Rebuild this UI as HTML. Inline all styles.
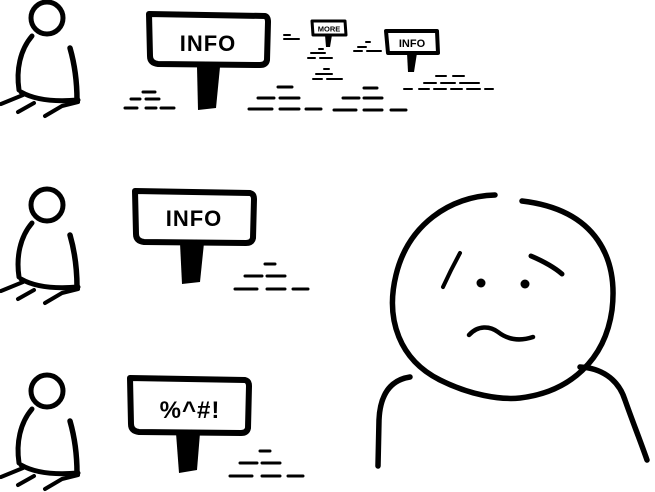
<!DOCTYPE html>
<html><head><meta charset="utf-8"><style>
html,body{margin:0;padding:0;background:#fff;width:655px;height:492px;overflow:hidden}
svg{display:block}
text{font-family:"Liberation Sans",sans-serif;font-weight:bold;fill:#000}
</style></head><body>
<svg width="655" height="492" viewBox="0 0 655 492" xmlns="http://www.w3.org/2000/svg">
<defs>
<g id="person" fill="none" stroke="#000" stroke-linecap="round" stroke-linejoin="round">
  <circle cx="47" cy="18" r="16" stroke-width="5"/>
  <path d="M32 36 C20 50 16 70 19 90" stroke-width="5"/>
  <path d="M70 48 C74 62 77 80 77 100" stroke-width="5.5"/>
  <path d="M21 92 C35 100 55 102 78 100" stroke-width="5"/>
  <path d="M1 104 L23 95 M18 112 L34 103 M45 116 L62 106 L78 102" stroke-width="4"/>
</g>
</defs>

<use href="#person" x="0" y="0"/>
<use href="#person" x="0" y="187"/>
<use href="#person" x="0" y="373"/>

<!-- sign 1 -->
<path d="M149 14 L265 16 Q268 17 268 22 L267 60 Q266 65 260 65 L158 64 Q150 63 150 56 Z" fill="none" stroke="#000" stroke-width="6" stroke-linejoin="round"/>
<path d="M197 67 L220 67 L216 108 L198 110 Z" fill="#000"/>
<text x="208" y="51" font-size="22" text-anchor="middle" letter-spacing="1">INFO</text>

<!-- sign 2 -->
<path d="M135 191 L250 193 Q254 194 254 199 L253 238 Q252 243 246 243 L144 242 Q136 241 136 234 Z" fill="none" stroke="#000" stroke-width="6" stroke-linejoin="round"/>
<path d="M180 243 L204 243 L200 282 L182 284 Z" fill="#000"/>
<text x="194" y="226" font-size="22" text-anchor="middle" letter-spacing="1">INFO</text>

<!-- sign 3 -->
<path d="M130 378 L245 380 Q249 381 249 386 L248 428 Q247 433 241 433 L139 432 Q131 431 131 424 Z" fill="none" stroke="#000" stroke-width="6" stroke-linejoin="round"/>
<path d="M176 433 L200 433 L197 470 L179 473 Z" fill="#000"/>
<text x="190" y="418" font-size="24" text-anchor="middle" letter-spacing="1">%^#!</text>

<!-- small signs -->
<path d="M312 21 L345 21 L346 35 L313 35 Z" fill="none" stroke="#000" stroke-width="3" stroke-linejoin="round"/>
<path d="M325 35 L332 35 L330 47 L326 47 Z" fill="#000"/>
<text x="329" y="31.5" font-size="7.5" text-anchor="middle">MORE</text>
<path d="M386 31 L437 31 L438 53 L388 53 Z" fill="none" stroke="#000" stroke-width="4" stroke-linejoin="round"/>
<path d="M407 53 L417 53 L414 72 L408 72 Z" fill="#000"/>
<text x="412" y="47" font-size="11" text-anchor="middle">INFO</text>

<!-- dashes -->
<g stroke="#000" stroke-width="3" stroke-linecap="round">
<path d="M143 92H155 M131 99H140 M146 99H159 M125 108H137 M146 108H156 M161 108H174"/>
<path d="M278 87H292 M258 98H274 M280 98H299 M249 109H272 M280 109H299 M306 109H321"/>
<path d="M364 88H377 M343 98H359 M364 98H382 M334 110H356 M364 110H382 M391 110H406"/>
<path d="M436 76H446 M453 76H464 M424 83H436 M441 83H455 M460 83H479 M404 89H412 M419 89H429 M434 89H446 M451 89H462 M467 89H480 M485 89H493" stroke-width="2"/>
<path d="M284 35H290 M284 39H299 M319 49H323 M311 53H325 M308 58H315 M320 58H332 M324 69H329 M316 74H332 M313 79H322 M327 79H342 M366 42H370 M358 47H366 M354 51H362 M367 51H381" stroke-width="2"/>
<path d="M265 264H275 M245 276H262 M267 276H285 M235 289H257 M267 289H285 M293 289H308"/>
<path d="M260 451H270 M240 463H257 M262 463H280 M230 476H252 M262 476H280 M288 476H303"/>
</g>

<!-- big face -->
<g fill="none" stroke="#000" stroke-linecap="round" stroke-linejoin="round">
<path d="M495 195 C450 196 408 225 396 275 C385 320 400 360 440 380 C470 395 500 400 520 398 C570 392 605 360 612 310 C618 260 598 210 522 201" stroke-width="5.5"/>
<path d="M410 377 C390 380 380 395 379 420 L378 466" stroke-width="5.5"/>
<path d="M580 367 C600 368 618 378 625 400 C632 420 640 440 647 460" stroke-width="5.5"/>
<path d="M460 253 C454 264 448 276 443 287" stroke-width="4"/>
<path d="M531 256 C545 262 555 268 562 274" stroke-width="5"/>
<path d="M469 335 C478 325 490 326 498 332 C507 339 518 342 533 337" stroke-width="4.5"/>
</g>
<circle cx="481" cy="283" r="4.5" fill="#000"/>
<circle cx="525" cy="284" r="4.5" fill="#000"/>
</svg>
</body></html>
